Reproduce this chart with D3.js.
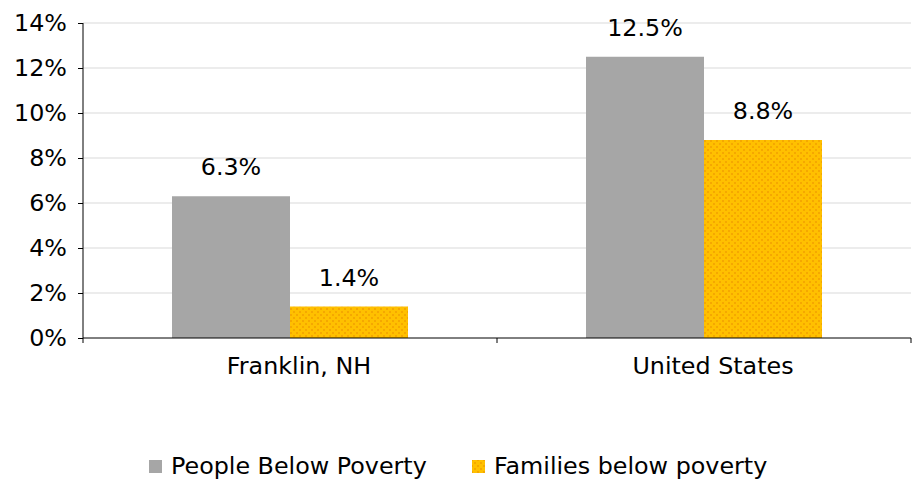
<!DOCTYPE html>
<html>
<head>
<meta charset="utf-8">
<script src="https://cdn.jsdelivr.net/npm/d3@7"></script>
<style>
  body { margin: 0; background: #fff; }
  svg { font-family: "DejaVu Sans", sans-serif; }
</style>
</head>
<body>
<svg id="chart" width="917" height="479"></svg>
<script>
// Poverty rates
const categories = ['Franklin, NH', 'United States'];
const seriesNames = ['People Below Poverty', 'Families below poverty'];
const people = [6.3, 12.5];
const families = [1.4, 8.8];
const yTicks = [0, 2, 4, 6, 8, 10, 12, 14];

const svg = d3.select('#chart');
const margin = { left: 83, right: 6, top: 23, bottom: 141 };
const width = 917 - margin.left - margin.right;
const height = 479 - margin.top - margin.bottom;
const fontSize = 23.8;

// dotted fill for the yellow bars
const defs = svg.append('defs');
const pat = defs.append('pattern')
    .attr('id', 'dots')
    .attr('width', 6).attr('height', 6)
    .attr('patternUnits', 'userSpaceOnUse');
pat.append('rect').attr('width', 6).attr('height', 6).attr('fill', '#FFC000');
pat.append('rect').attr('x', 0).attr('y', 0).attr('width', 2).attr('height', 2).attr('fill', '#F5A800');
pat.append('rect').attr('x', 3).attr('y', 3).attr('width', 2).attr('height', 2).attr('fill', '#F5A800');

const colors = ['#A6A6A6', 'url(#dots)'];

const g = svg.append('g').attr('transform', `translate(${margin.left},${margin.top})`);

const x0 = d3.scaleBand().domain(categories).range([0, width]).paddingInner(0).paddingOuter(0);
const x1 = d3.scaleBand().domain(seriesNames).range([89, x0.bandwidth() - 89]);
const y = d3.scaleLinear().domain([0, 14]).range([height, 0]);

// gridlines
g.append('g').selectAll('line')
    .data(yTicks.filter(d => d > 0))
    .enter().append('line')
    .attr('x1', 0).attr('x2', width)
    .attr('y1', d => y(d)).attr('y2', d => y(d))
    .attr('stroke', '#D9D9D9').attr('stroke-width', 1);

// bars
const rows = categories.map((c, i) => ({ cat: c, vals: [people[i], families[i]] }));
const groups = g.selectAll('.grp').data(rows).enter().append('g')
    .attr('transform', d => `translate(${x0(d.cat)},0)`);

groups.selectAll('rect')
    .data(d => d.vals.map((v, j) => ({ v, s: seriesNames[j], j })))
    .enter().append('rect')
    .attr('x', d => x1(d.s))
    .attr('y', d => y(d.v))
    .attr('width', x1.bandwidth())
    .attr('height', d => height - y(d.v))
    .attr('fill', d => colors[d.j]);

groups.selectAll('text')
    .data(d => d.vals.map((v, j) => ({ v, s: seriesNames[j] })))
    .enter().append('text')
    .attr('x', d => x1(d.s) + x1.bandwidth() / 2)
    .attr('y', d => y(d.v) - 21)
    .attr('text-anchor', 'middle')
    .attr('font-size', fontSize)
    .attr('fill', '#000')
    .text(d => d.v.toFixed(1) + '%');

// y axis
const yAxis = g.append('g')
    .call(d3.axisLeft(y).tickValues(yTicks).tickFormat(d => d + '%').tickSize(5).tickPadding(11));
yAxis.select('.domain').attr('d', `M0,${y(14)}V${height}`).attr('stroke', '#000');
yAxis.selectAll('.tick line').attr('stroke', '#000');
yAxis.selectAll('.tick text').attr('font-size', fontSize).attr('fill', '#000')
    .attr('font-family', '"DejaVu Sans", sans-serif');

// x axis
const xAxis = g.append('g').attr('transform', `translate(0,${height})`);
xAxis.append('line').attr('x1', 0).attr('x2', width).attr('stroke', '#000');
xAxis.selectAll('.xt').data([0, x0.bandwidth(), width]).enter().append('line')
    .attr('x1', d => d).attr('x2', d => d).attr('y1', 0).attr('y2', 5).attr('stroke', '#000');
xAxis.selectAll('.xl').data(categories).enter().append('text')
    .attr('x', d => x0(d) + x0.bandwidth() / 2 + 9)
    .attr('y', 36)
    .attr('text-anchor', 'middle')
    .attr('font-size', fontSize)
    .attr('fill', '#000')
    .text(d => d);

// legend
const legendX = [149, 472];
const legend = svg.append('g');
seriesNames.forEach((s, i) => {
    legend.append('rect')
        .attr('x', legendX[i]).attr('y', 460)
        .attr('width', 13).attr('height', 13)
        .attr('fill', colors[i]);
    legend.append('text')
        .attr('x', legendX[i] + 22).attr('y', 474)
        .attr('font-size', fontSize)
        .attr('fill', '#000')
        .text(s);
});
</script>
</body>
</html>
